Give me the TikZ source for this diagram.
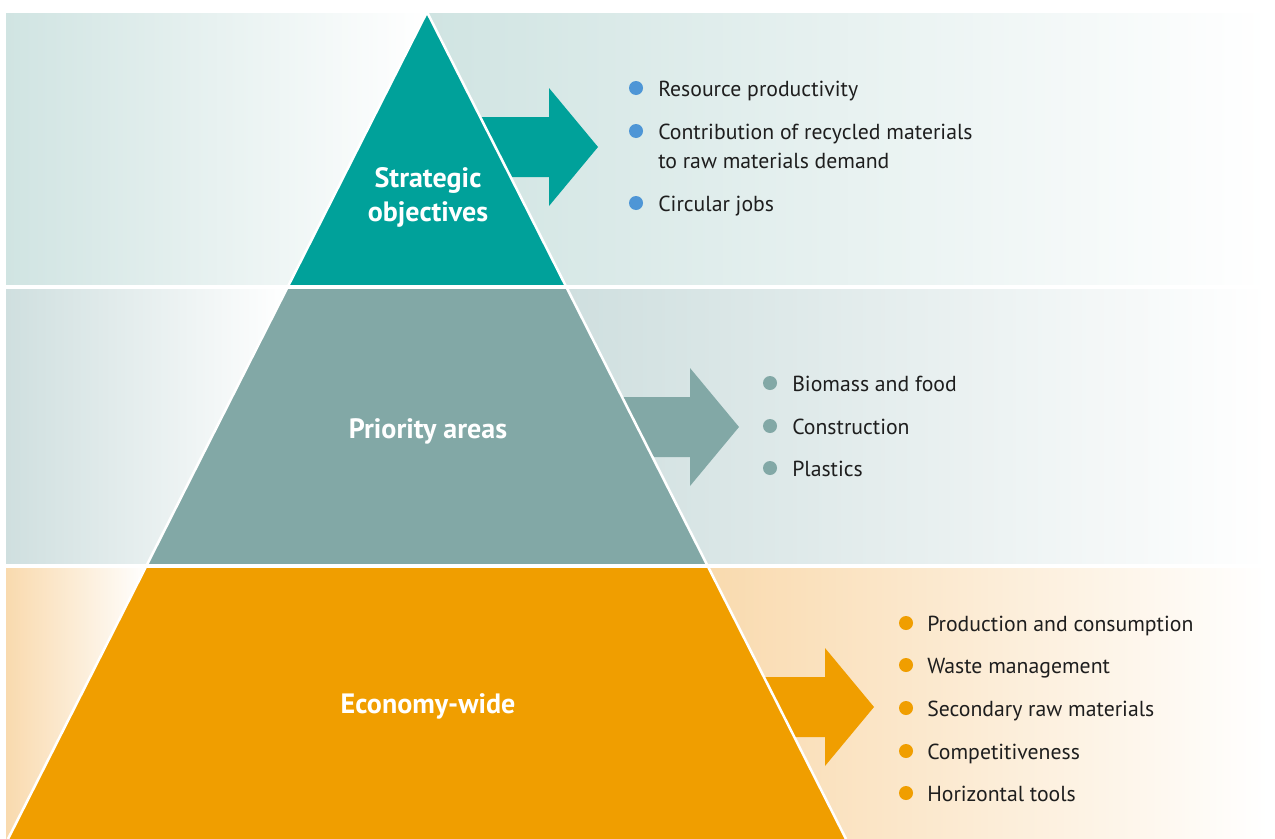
\documentclass[tikz,border=0pt]{standalone}
\usepackage{fontspec}
\setmainfont{PT Sans}
\usetikzlibrary{positioning}

\definecolor{stratTeal}{RGB}{0,161,154}
\definecolor{prioGrey}{RGB}{130,168,166}
\definecolor{econOrange}{RGB}{240,158,0}
\definecolor{dotBlue}{RGB}{78,150,214}
\definecolor{bandTeal}{RGB}{208,228,226}
\definecolor{bandGrey}{RGB}{207,223,223}
\definecolor{bandOrange}{RGB}{249,218,174}
\definecolor{itemText}{RGB}{30,30,30}

\tikzset{
  tier/.style={font=\bfseries\fontsize{21}{25.5}\selectfont, text=white, align=center, anchor=base, inner sep=0pt},
  item/.style={font=\fontsize{16.3}{21.75}\selectfont, text=itemText, anchor=base west, inner sep=0pt},
  dot/.style={circle, fill=#1, minimum size=10.5pt, inner sep=0pt},
  gap/.style={white, line width=3pt},
  pics/blockarrow/.style={code={
    \fill[#1] (-80,-30) -- (0,-30) -- (0,-59) -- (49,0) -- (0,59) -- (0,30) -- (-80,30) -- cycle;
  }}
}

\begin{document}
\begin{tikzpicture}[x=0.75pt,y=0.75pt,yscale=-1,xscale=1]
\useasboundingbox (0,0) rectangle (1275,839);

% background bands, fading out left and right of the pyramid
\shade[left color=bandTeal,right color=white] (6,13) rectangle (427,287);
\shade[left color=bandTeal,right color=white] (427,13) rectangle (1268,287);
\shade[left color=bandGrey,right color=white] (6,287) rectangle (288,566);
\shade[left color=bandGrey,right color=white] (566,287) rectangle (1268,566);
\shade[left color=bandOrange,right color=white] (6,566) rectangle (147,839);
\shade[left color=bandOrange,right color=white] (707,566) rectangle (1268,839);

% arrows (drawn first, the tier edges run over them)
\pic at (549,147) {blockarrow=stratTeal};
\pic at (690,427) {blockarrow=prioGrey};
\pic at (825,707) {blockarrow=econOrange};

% pyramid tiers
\fill[stratTeal] (427,12) -- (566,287) -- (288,287) -- cycle;
\fill[prioGrey] (288,287) -- (566,287) -- (707,566) -- (147,566) -- cycle;
\fill[econOrange] (147,566) -- (707,566) -- (846,839) -- (8,839) -- cycle;

% white outline and gaps
\draw[white, line width=1.9pt, line join=round] (8,839) -- (427,12) -- (846,839);
\draw[gap] (0,287) -- (1275,287);
\draw[gap] (0,566) -- (1275,566);

% tier labels (base = last line)
\node[tier] (strat) at (428,221) {Strategic\\objectives};
\node[tier] (prio) at (428,438) {Priority areas};
\node[tier] (econ) at (428,713) {Economy-wide};

% strategic objectives
\node[dot=dotBlue] (sd1) at (636,88) {};
\node[item] (so1) at (658,96) {Resource productivity};
\node[dot=dotBlue] (sd2) at (636,131) {};
\node[item, align=left] (so2) at (658,168) {Contribution of recycled materials\\to raw materials demand};
\node[dot=dotBlue] (sd3) at (636,203) {};
\node[item] (so3) at (658,211) {Circular jobs};

% priority areas
\foreach \y/\txt [count=\i] in {383/Biomass and food, 426/Construction, 468/Plastics}{
  \node[dot=prioGrey] (pd\i) at (770,\y) {};
  \node[item] (pa\i) at (792,\y+8) {\txt};
}

% economy-wide
\foreach \y/\txt [count=\i] in {623/Production and consumption, 665/Waste management,
    708/Secondary raw materials, 751/Competitiveness, 793/Horizontal tools}{
  \node[dot=econOrange] (ed\i) at (906,\y) {};
  \node[item] (ew\i) at (927,\y+8) {\txt};
}

\end{tikzpicture}
\end{document}
